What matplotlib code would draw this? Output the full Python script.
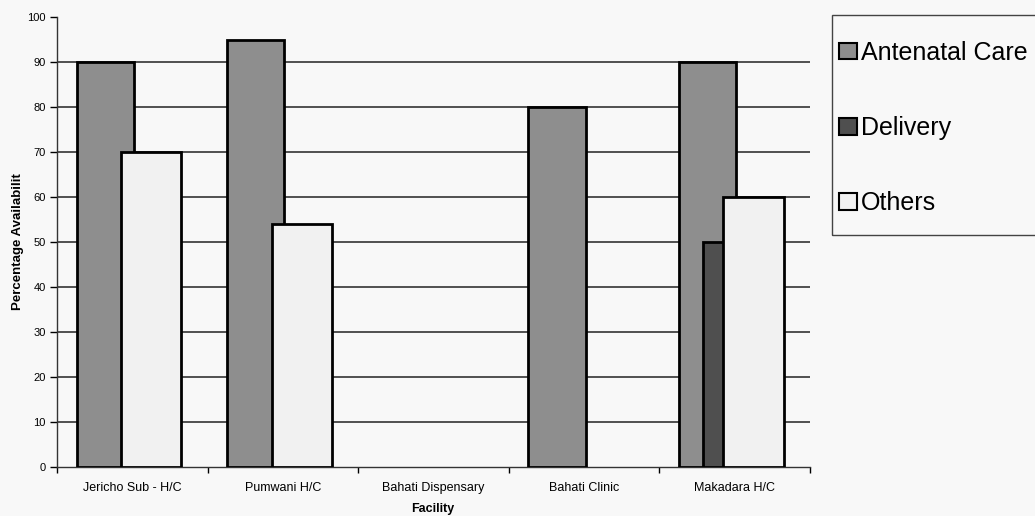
import matplotlib.pyplot as plt
from matplotlib.patches import Patch, Rectangle
import numpy as np

# data
facilities = ['Jericho Sub - H/C', 'Pumwani H/C', 'Bahati Dispensary', 'Bahati Clinic', 'Makadara H/C']
antenatal = [90, 95, 0, 80, 90]
delivery = [0, 0, 0, 0, 50]
others = [70, 54, 0, 0, 60]

series_names = ['Antenatal Care', 'Delivery', 'Others']
series_colors = ['#8e8e8e', '#4f4f4f', '#f1f1f1']

plt.rcParams['font.family'] = ['Liberation Sans', 'DejaVu Sans']

bg = '#f8f8f8'
fig = plt.figure(figsize=(10.35, 5.16), dpi=100, facecolor=bg)
ax = fig.add_axes([57/1035, 1-467/516, (810-57)/1035, (467-17)/516])
ax.set_facecolor(bg)

x = np.arange(len(facilities))

# overlapping bars like the original spreadsheet chart
b1 = ax.bar(x - 0.18, antenatal, width=0.38, color=series_colors[0], edgecolor='black', linewidth=2, zorder=3)
b2 = ax.bar(x - 0.135, delivery, width=0.15, color=series_colors[1], edgecolor='black', linewidth=2, zorder=3)
b3 = ax.bar(x + 0.125, others, width=0.40, color=series_colors[2], edgecolor='black', linewidth=2, zorder=3)

# zero-height bars are not drawn
for bars in (b1, b2, b3):
    for p in bars:
        if p.get_height() == 0:
            p.set_visible(False)

ax.set_xlim(-0.5, len(facilities) - 0.5)
ax.set_ylim(0, 100)
ax.set_yticks(np.arange(0, 101, 10))
for yv in range(10, 100, 10):
    ax.axhline(yv, color='#222222', linewidth=1.1, zorder=1)

ax.set_xticks(x)
ax.set_xticklabels(facilities, fontsize=9)
ax.set_xticks(np.arange(-0.5, len(facilities), 1), minor=True)
ax.tick_params(axis='x', which='major', length=0, pad=11)
ax.tick_params(axis='x', which='minor', length=4, direction='out', width=1)
ax.tick_params(axis='y', length=5, width=1, labelsize=8, pad=3)

for s in ['top', 'right']:
    ax.spines[s].set_visible(False)
for s in ['left', 'bottom']:
    ax.spines[s].set_color('#333333')
    ax.spines[s].set_linewidth(1)

ax.set_ylabel('Percentage Availabilit', fontsize=9.5, fontweight='bold', labelpad=2.5)
fig.text(433/1035, 1-509/516, 'Facility', fontsize=9, fontweight='bold', ha='center', va='center')

# legend with a plain rectangular box running off the right edge
handles = [Patch(facecolor=c, edgecolor='black', linewidth=1.5) for c in series_colors]
leg = fig.legend(handles=handles, labels=series_names, loc='upper left',
                 bbox_to_anchor=(839/1035, 1-41/516), fontsize=18, frameon=False,
                 borderaxespad=0, borderpad=0, labelspacing=2.05,
                 handlelength=0.72, handleheight=0.64, handletextpad=0.15)
fig.patches.append(Rectangle((832/1035, 1-235/516), 220/1035, 220/516,
                             transform=fig.transFigure, facecolor='none',
                             edgecolor='#444444', linewidth=1))

fig.savefig('out.png', dpi=100, facecolor=fig.get_facecolor())
